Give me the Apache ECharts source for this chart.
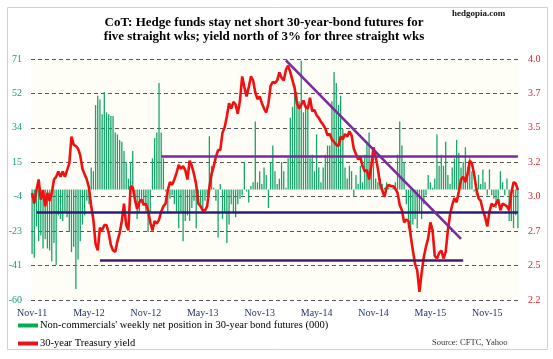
<!DOCTYPE html>
<html>
<head>
<meta charset="utf-8">
<script src="https://cdn.jsdelivr.net/npm/echarts@6/dist/echarts.min.js"></script>
<style>
html,body{margin:0;padding:0;background:#ffffff;}
#chart{width:553px;height:359px;}
</style>
</head>
<body>
<div id="chart"></div>
<script>
// Weekly categories (Tuesday reporting dates), Nov-2011 onwards
const categories = [];
for (let i = 0; i < 223; i++) {
  const d = new Date(Date.UTC(2011, 10, 8 + 7 * i));
  categories.push(d.toISOString().slice(0, 10));
}
const tickLabels = ['Nov-11','May-12','Nov-12','May-13','Nov-13','May-14','Nov-14','May-15','Nov-15'];
const leftTicks = { min: -60, max: 71 };
const rightTicks = { min: 2.2, max: 4.0 };

// Non-commercials' weekly net position in 30-year bond futures (000)
const netPosition = [
  -35,-37,-20,-28,-25,-32,-27,-32,-33,-39,
  -29,-41,-14,-16,-17,-12,-15,-23,-34,-31,
  -54,-38,-28,-19,-14,-6,-8,12,10,46,
  51,49,41,53,42,41,40,40,31,30,
  27,26,21,15,6,15,21,-7,-16,-12,
  -5,-8,-12,-23,-12,17,28,31,58,31,
  17,-1,-12,-5,-3,-8,-12,-21,-12,-28,
  -17,-14,-17,-10,-6,-21,-6,-10,-12,-6,
  -3,29,13,1,-6,-26,3,-16,-12,-29,
  -19,-8,-12,-15,-8,-5,-3,15,-1,-7,
  2,4,37,4,10,3,12,8,-10,15,
  24,10,3,6,15,10,1,17,39,45,
  57,53,48,70,42,46,44,17,19,10,
  30,12,4,12,19,24,24,48,64,58,
  46,51,33,12,6,13,10,-4,8,3,
  13,4,19,26,31,13,21,6,4,6,
  3,1,4,1,0.5,1,4,19,37,24,
  15,-8,-21,-28,-19,-16,-21,-12,-16,-8,
  -3,8,4,1,6,30,13,19,13,26,
  8,3,12,17,27,20,12,15,23,12,
  17,10,-1,-3,8,3,11,4,-3,11,
  -3,-5,-10,-6,10,4,-3,6,-17,-17,
  -21,-14,-21
];

// 30-year Treasury yield (%)
const yield30 = [
  3.00,2.92,3.02,3.10,2.95,3.02,2.90,3.00,2.94,3.00,
  3.10,3.12,3.16,3.12,3.16,3.12,3.17,3.22,3.42,3.36,
  3.35,3.33,3.28,3.18,3.14,3.10,3.04,2.90,2.80,2.62,
  2.57,2.74,2.72,2.76,2.76,2.70,2.61,2.57,2.56,2.64,
  2.70,2.79,2.92,2.76,2.72,3.05,3.04,2.95,2.88,2.93,
  2.95,2.91,2.92,2.87,2.78,2.72,2.79,2.77,2.80,2.86,
  2.90,2.92,3.02,3.08,3.06,3.10,3.15,3.21,3.18,3.20,
  3.17,3.10,3.24,3.20,3.14,3.06,2.92,2.90,2.87,2.87,
  2.90,3.04,3.14,3.20,3.27,3.32,3.32,3.45,3.49,3.57,
  3.67,3.63,3.68,3.66,3.59,3.69,3.87,3.79,3.72,3.79,
  3.87,3.84,3.75,3.70,3.72,3.67,3.63,3.60,3.67,3.80,
  3.83,3.82,3.84,3.90,3.86,3.84,3.92,3.95,3.90,3.84,
  3.78,3.67,3.63,3.66,3.69,3.64,3.63,3.71,3.61,3.62,
  3.58,3.56,3.53,3.51,3.48,3.43,3.44,3.40,3.38,3.36,
  3.35,3.42,3.40,3.44,3.42,3.46,3.43,3.33,3.29,3.25,
  3.27,3.20,3.16,3.17,3.10,3.20,3.34,3.27,3.18,3.07,
  3.02,2.97,3.04,3.06,3.05,3.05,3.03,3.00,2.91,2.87,
  2.78,2.80,2.79,2.68,2.57,2.47,2.42,2.26,2.40,2.52,
  2.60,2.66,2.78,2.72,2.53,2.51,2.55,2.57,2.51,2.56,
  2.72,2.84,2.91,2.96,2.93,3.01,3.10,3.12,3.08,3.14,
  3.24,3.22,3.14,3.03,2.96,2.94,2.87,2.82,2.75,2.86,
  2.92,2.90,2.92,2.95,2.87,2.92,2.91,2.90,2.87,3.00,
  3.08,3.07,3.02
];

// Hand-drawn support/resistance lines, in data terms: [week index, yield]
const trendStart = [[59, 3.27], [1.8, 2.852], [31, 2.494], [116.4, 3.99]];
const trendEnd   = [[222, 3.27], [222, 2.852], [196.8, 2.494], [196.3, 2.656]];
const trendColors = ['#7a2a9a', '#2c1f78', '#4a1a6a', '#7a2a9a'];

const serif = '"Liberation Serif", "DejaVu Serif", serif';
const chart = echarts.init(document.getElementById('chart'), null, { renderer: 'canvas' });

const markData = trendStart.map((s, k) => [
  { coord: s, lineStyle: { color: trendColors[k], width: 2.6, type: 'solid' } },
  { coord: trendEnd[k] }
]);

chart.setOption({
  animation: false,
  backgroundColor: '#ffffff',
  title: {
    text: 'CoT: Hedge funds stay net short 30-year-bond futures for\nfive straight wks; yield north of 3% for three straight wks',
    left: 259,
    top: 11,
    textAlign: 'center',
    textStyle: { fontFamily: serif, fontWeight: 'bold', fontSize: 13, lineHeight: 13.5, color: '#000' }
  },
  legend: {
    orient: 'vertical',
    left: 13,
    top: 315,
    itemWidth: 20,
    itemHeight: 4,
    itemGap: 7,
    textStyle: { fontFamily: serif, fontSize: 10.5, color: '#000', padding: [0, 0, 0, -3] },
    data: [
      { name: "Non-commercials' weekly net position in 30-year bond futures (000)", icon: 'rect', itemStyle: { color: '#00b050' } },
      { name: '30-year Treasury yield', icon: 'rect', itemStyle: { color: '#e8141a' } }
    ]
  },
  grid: { left: 31, right: 34, top: 59, bottom: 59, show: true, backgroundColor: '#fefef7', borderWidth: 0 },
  xAxis: {
    type: 'category',
    data: categories,
    boundaryGap: true,
    axisLine: { show: false },
    axisTick: { show: false },
    splitLine: { show: false },
    axisLabel: {
      interval: (idx) => idx % 26 === 0,
      formatter: (v, idx) => tickLabels[Math.round(idx / 26)],
      fontFamily: serif, fontSize: 10, color: '#1f2f5f', margin: 8
    }
  },
  yAxis: [
    {
      type: 'value',
      min: leftTicks.min, max: leftTicks.max,
      interval: (leftTicks.max - leftTicks.min) / 7,
      axisLine: { show: false }, axisTick: { show: false },
      axisLabel: { formatter: (v) => String(Math.round(v)), fontFamily: serif, fontSize: 10, color: '#1d9b72', margin: 9 },
      splitLine: { show: true, lineStyle: { color: '#555', width: 1, type: [4, 3] } }
    },
    {
      type: 'value',
      min: rightTicks.min, max: rightTicks.max,
      interval: (rightTicks.max - rightTicks.min) / 7,
      axisLine: { show: false }, axisTick: { show: false },
      axisLabel: { formatter: (v) => v.toFixed(1), fontFamily: serif, fontSize: 10, color: '#d9262b', margin: 9 },
      splitLine: { show: false }
    }
  ],
  series: [
    {
      name: "Non-commercials' weekly net position in 30-year bond futures (000)",
      type: 'bar',
      yAxisIndex: 0,
      data: netPosition,
      barWidth: 1.3,
      itemStyle: { color: '#17a468' },
      emphasis: { disabled: true }
    },
    {
      name: '30-year Treasury yield',
      type: 'line',
      yAxisIndex: 1,
      data: yield30,
      showSymbol: false,
      symbol: 'none',
      clip: false,
      lineStyle: { color: '#f01010', width: 2.6 },
      itemStyle: { color: '#e8141a' },
      emphasis: { disabled: true },
      markLine: {
        silent: true,
        symbol: ['none', 'none'],
        label: { show: false },
        animation: false,
        data: markData
      }
    }
  ],
  graphic: [
    { type: 'rect', shape: { x: 7.5, y: 7.5, width: 540, height: 342 }, style: { fill: 'none', stroke: '#c9d1e2', lineWidth: 1 }, silent: true, z: -1 },
    { type: 'text', left: 452, top: 9, style: { text: 'hedgopia.com', font: 'bold 9px "Liberation Serif", serif', fill: '#111' } },
    { type: 'text', left: 432, top: 338, style: { text: 'Source: CFTC, Yahoo', font: '8.5px "Liberation Serif", serif', fill: '#333' } }
  ]
});
</script>
</body>
</html>
